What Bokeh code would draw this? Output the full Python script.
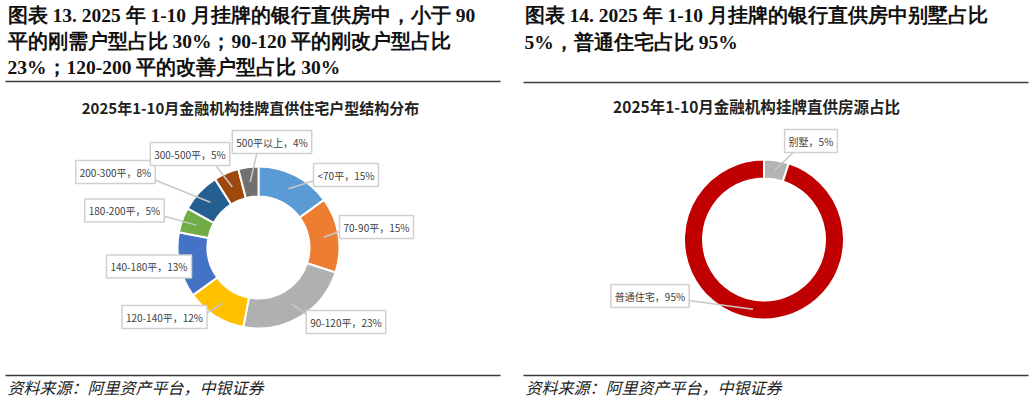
import numpy as np
from bokeh.plotting import figure
from bokeh.models import Range1d, Label, ColumnDataSource
from bokeh.embed import file_html
from bokeh.resources import INLINE

# ---------------- data ----------------
left_categories = ["<70平", "70-90平", "90-120平", "120-140平", "140-180平",
                   "180-200平", "200-300平", "300-500平", "500平以上"]
left_shares = [15, 15, 23, 12, 13, 5, 8, 5, 4]
left_colors = ["#5B9BD5", "#ED7D31", "#B0B0B0", "#FFC000", "#4472C4",
               "#70AD47", "#255E91", "#9E480E", "#707070"]

right_categories = ["别墅", "普通住宅"]
right_shares = [5, 95]
right_colors = ["#B4B4B4", "#C00000"]

left_main_title = ["图表 13. 2025 年 1-10 月挂牌的银行直供房中，小于 90",
                   "平的刚需户型占比 30%；90-120 平的刚改户型占比",
                   "23%；120-200 平的改善户型占比 30%"]
right_main_title = ["图表 14. 2025 年 1-10 月挂牌的银行直供房中别墅占比",
                    "5%，普通住宅占比 95%"]
left_chart_title = "2025年1-10月金融机构挂牌直供住宅户型结构分布"
right_chart_title = "2025年1-10月金融机构挂牌直供房源占比"
source_text = "资料来源：阿里资产平台，中银证券"

# ---------------- layout (reference pixel coordinates) ----------------
W, H = 1033, 401


def Y(ry):
    return H - ry


p = figure(width=W, height=H, x_range=Range1d(0, W), y_range=Range1d(0, H),
           output_backend="svg", toolbar_location=None, min_border=0,
           x_axis_location=None, y_axis_location=None)
p.grid.visible = False
p.outline_line_color = None
p.background_fill_color = "white"
p.border_fill_color = "white"

RULE = "#3A3A3A"
# rules
for x0, x1, yy in [(5, 500, 81), (523, 1028, 82), (5, 500, 375), (523, 1028, 375)]:
    p.segment(x0=[x0], y0=[Y(yy)], x1=[x1], y1=[Y(yy)], line_color=RULE, line_width=1.5)

# main titles
for i, t in enumerate(left_main_title):
    p.add_layout(Label(x=7, y=Y([15, 41, 67][i]), text=t, text_font="Liberation Serif",
                       text_font_style="bold", text_font_size="19.5px", text_color="#111111",
                       text_baseline="middle", text_align="left"))
for i, t in enumerate(right_main_title):
    p.add_layout(Label(x=524, y=Y([15, 42][i]), text=t, text_font="Liberation Serif",
                       text_font_style="bold", text_font_size="19.5px", text_color="#111111",
                       text_baseline="middle", text_align="left"))

# chart titles
p.add_layout(Label(x=250, y=Y(107), text=left_chart_title, text_font="Noto Sans CJK SC",
                   text_font_style="bold", text_font_size="15px", text_color="#222222",
                   text_baseline="middle", text_align="center"))
p.add_layout(Label(x=756, y=Y(105), text=right_chart_title, text_font="Noto Sans CJK SC",
                   text_font_style="bold", text_font_size="15.5px", text_color="#222222",
                   text_baseline="middle", text_align="center"))

# sources
for sx in [7, 525]:
    p.add_layout(Label(x=sx, y=Y(386), text=source_text, text_font="Noto Sans CJK SC",
                       text_font_style="italic", text_font_size="16px", text_color="#222222",
                       text_baseline="middle", text_align="left"))


def donut(cx, cy, r_in, r_out, shares, colors, cats, label_pos, leader_from):
    vals = np.array(shares, dtype=float)
    cum = np.concatenate([[0], np.cumsum(vals)]) / vals.sum()
    start = np.pi / 2 - 2 * np.pi * cum[1:]
    end = np.pi / 2 - 2 * np.pi * cum[:-1]
    src = ColumnDataSource(dict(start=start, end=end, color=colors))
    p.annular_wedge(x=cx, y=Y(cy), inner_radius=r_in, outer_radius=r_out,
                    start_angle="start", end_angle="end", fill_color="color",
                    line_color="white", line_width=2, source=src)
    mid = (start + end) / 2
    rm = (r_in + r_out) / 2
    mx = cx + rm * np.cos(mid)
    my = Y(cy) + rm * np.sin(mid)
    for i, (cat, v) in enumerate(zip(cats, shares)):
        lf = leader_from[i]
        if lf is not None:
            p.segment(x0=[lf[0]], y0=[Y(lf[1])], x1=[mx[i]], y1=[my[i]],
                      line_color="#C8C8C8", line_width=1.5)
    for i, (cat, v) in enumerate(zip(cats, shares)):
        lx, ly = label_pos[i]
        p.add_layout(Label(x=lx, y=Y(ly), text=f"{cat}，{v}%", text_font="Noto Sans CJK SC",
                           text_font_size="10px", text_color="#404040",
                           text_align="center", text_baseline="middle",
                           background_fill_color="white", border_line_color="#D0D0D0",
                           border_line_width=1.5, padding=4))


donut(258, 247, 51, 81, left_shares, left_colors, left_categories,
      [(345.5, 174.5), (376, 226.5), (345.5, 321.5), (164, 316.5), (148.5, 266),
       (124, 210), (115, 171.5), (189.5, 153.5), (271.5, 141.5)],
      [(317, 179), (342, 230), (309, 316), (204, 314), None,
       (161, 215), (148, 177), (213, 162), (257, 150)])

donut(763.5, 239, 61, 80, right_shares, right_colors, right_categories,
      [(810.5, 140.5), (649.5, 295.5)],
      [(796, 149), (688, 300)])

open("out.html", "w").write(file_html(p, INLINE))
